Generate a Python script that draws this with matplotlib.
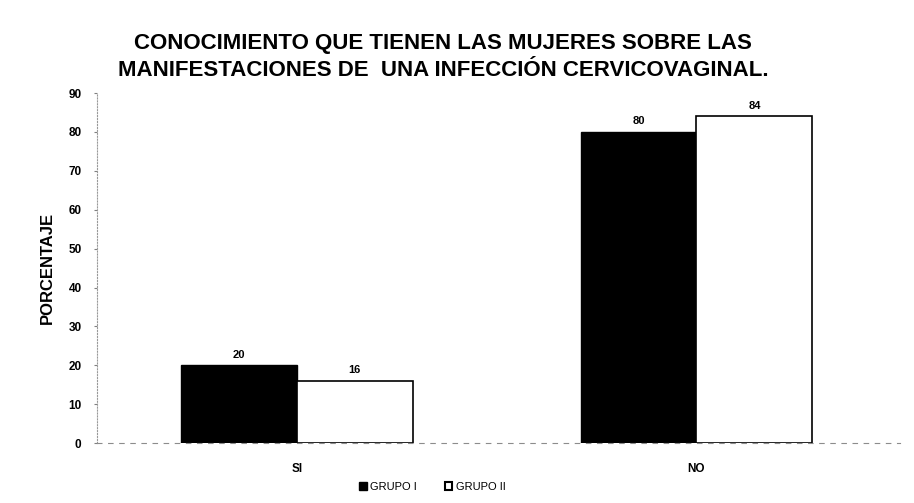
import matplotlib

matplotlib.use("Agg")
from matplotlib import pyplot as plt
from matplotlib.patches import Patch
import numpy as np

plt.rcParams["font.family"] = ["Liberation Sans", "DejaVu Sans"]

categories = ["SI", "NO"]
grupo_1 = [20, 80]
grupo_2 = [16, 84]
series_names = ["GRUPO I", "GRUPO II"]
y_ticks = [0, 10, 20, 30, 40, 50, 60, 70, 80, 90]

figure = plt.figure(figsize=(9.14, 5.03), dpi=100)
axis = figure.add_axes([0.106, 0.119, 0.879, 0.696])

x = np.arange(len(categories))
width = 0.29
bars_1 = axis.bar(x - width / 2, grupo_1, width, color="black", edgecolor="black", linewidth=1.0)
bars_2 = axis.bar(x + width / 2, grupo_2, width, color="white", edgecolor="black", linewidth=1.2)

for bars in (bars_1, bars_2):
    for bar in bars:
        axis.text(
            bar.get_x() + bar.get_width() / 2,
            bar.get_height() + 1.5,
            f"{bar.get_height():.0f}",
            ha="center",
            va="bottom",
            fontsize=8,
            fontweight="bold",
        )

axis.set_xlim(-0.5, 1.51)
axis.set_ylim(0, 90)
axis.set_yticks(y_ticks)
axis.set_yticklabels([str(v) for v in y_ticks], fontsize=8.5, fontweight="bold")
axis.set_xticks(x)
axis.set_xticklabels(categories, fontsize=8.5, fontweight="bold")
axis.tick_params(axis="y", length=2, color="0.5", pad=9)
axis.tick_params(axis="x", length=0, pad=14)

for side in ("top", "right"):
    axis.spines[side].set_visible(False)
axis.spines["left"].set_linestyle(":")
axis.spines["left"].set_color("0.6")
axis.spines["bottom"].set_linestyle((0, (4, 6)))
axis.spines["bottom"].set_color("0.55")

axis.set_ylabel("PORCENTAJE", fontsize=12, fontweight="bold", labelpad=10)

figure.text(
    0.485,
    0.887,
    "CONOCIMIENTO QUE TIENEN LAS MUJERES SOBRE LAS\nMANIFESTACIONES DE  UNA INFECCIÓN CERVICOVAGINAL.",
    ha="center",
    va="center",
    fontsize=16,
    fontweight="bold",
    linespacing=1.35,
)

handles = [
    Patch(facecolor="black", edgecolor="black"),
    Patch(facecolor="white", edgecolor="black", linewidth=1.5),
]
figure.legend(
    handles,
    series_names,
    loc="center",
    bbox_to_anchor=(0.473, 0.032),
    ncol=2,
    frameon=False,
    fontsize=8,
    handlelength=0.7,
    handleheight=0.7,
    handletextpad=0.3,
    columnspacing=2.5,
)

figure.savefig("out.png", dpi=100)
